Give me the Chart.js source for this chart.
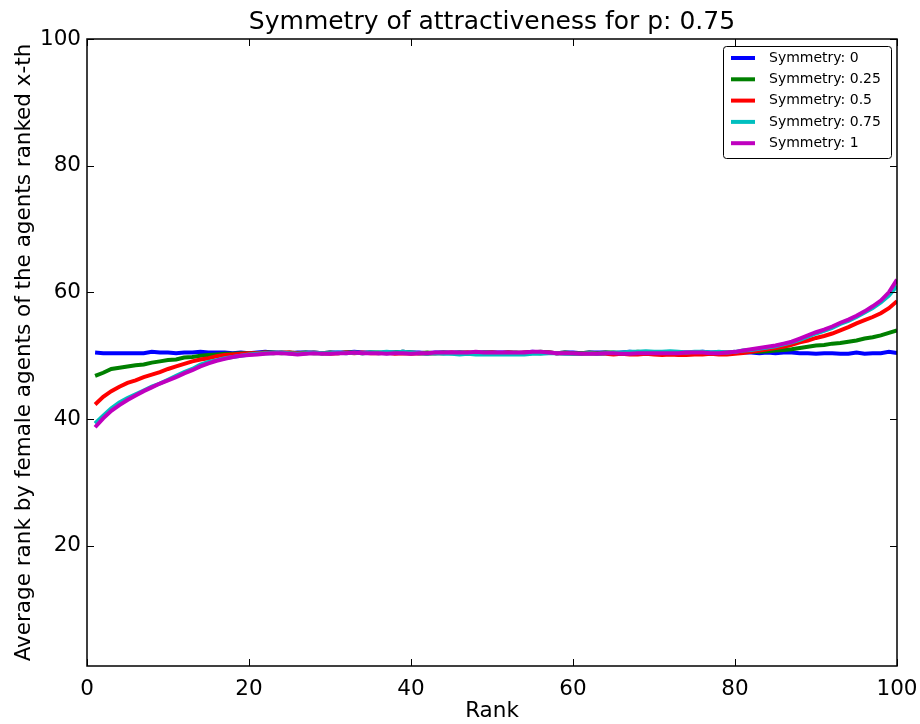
<!DOCTYPE html>
<html lang="en">
<head>
  <meta charset="UTF-8">
  <title>Symmetry of attractiveness for p: 0.75</title>
  <script src="https://cdn.jsdelivr.net/npm/chart.js"></script>
  <style>
    html, body {
      margin: 0;
      background: #ffffff;
    }
    #wrap {
      width: 920px;
      height: 724px;
    }
  </style>
</head>
<body>
  <div id="wrap">
    <canvas id="symChart"></canvas>
  </div>
  <script>
    const titleText = 'Symmetry of attractiveness for p: 0.75';
    const xTitle = 'Rank';
    const yTitle = 'Average rank by female agents of the agents ranked x-th';

    const ranks = Array.from({ length: 100 }, (_, i) => i + 1);
    const xTicks = [0, 20, 40, 60, 80, 100];
    const yTicks = [20, 40, 60, 80, 100];

    const sym0 = [
      50.5,50.4,50.4,50.4,50.4,50.4,50.4,50.6,50.5,50.5,
      50.4,50.5,50.5,50.6,50.5,50.5,50.5,50.4,50.5,50.4,
      50.5,50.6,50.5,50.5,50.4,50.5,50.5,50.5,50.4,50.5,
      50.5,50.5,50.6,50.5,50.5,50.4,50.5,50.5,50.6,50.5,
      50.5,50.4,50.5,50.5,50.5,50.5,50.4,50.5,50.5,50.5,
      50.5,50.5,50.4,50.5,50.6,50.5,50.5,50.4,50.5,50.5,
      50.4,50.5,50.5,50.5,50.4,50.5,50.6,50.5,50.5,50.5,
      50.5,50.4,50.5,50.5,50.5,50.6,50.5,50.5,50.4,50.5,
      50.5,50.5,50.4,50.5,50.4,50.5,50.5,50.4,50.4,50.3,
      50.4,50.4,50.3,50.3,50.5,50.3,50.4,50.4,50.6,50.4
    ];
    const sym025 = [
      46.8,47.3,47.9,48.1,48.3,48.5,48.6,48.9,49.1,49.3,
      49.4,49.7,49.8,50.0,50.1,50.2,50.3,50.3,50.4,50.4,
      50.4,50.5,50.5,50.4,50.5,50.4,50.5,50.4,50.4,50.5,
      50.4,50.5,50.5,50.4,50.5,50.5,50.4,50.5,50.6,50.5,
      50.4,50.5,50.4,50.5,50.4,50.5,50.5,50.4,50.5,50.5,
      50.4,50.5,50.5,50.4,50.5,50.6,50.5,50.4,50.5,50.4,
      50.4,50.5,50.4,50.5,50.5,50.4,50.5,50.6,50.5,50.5,
      50.4,50.5,50.5,50.4,50.5,50.5,50.4,50.5,50.5,50.5,
      50.6,50.6,50.6,50.7,50.8,50.9,51.0,51.2,51.4,51.6,
      51.7,51.9,52.0,52.2,52.4,52.7,52.9,53.2,53.6,54.0
    ];
    const sym05 = [
      42.3,43.5,44.4,45.1,45.7,46.1,46.6,47.0,47.4,47.9,
      48.3,48.7,49.1,49.4,49.6,49.9,50.1,50.2,50.3,50.4,
      50.4,50.5,50.4,50.5,50.5,50.4,50.4,50.5,50.4,50.3,
      50.4,50.5,50.4,50.5,50.4,50.4,50.5,50.3,50.4,50.3,
      50.4,50.3,50.4,50.4,50.5,50.4,50.5,50.4,50.4,50.5,
      50.4,50.5,50.4,50.5,50.5,50.4,50.5,50.4,50.4,50.3,
      50.3,50.4,50.3,50.3,50.2,50.3,50.2,50.2,50.3,50.2,
      50.1,50.2,50.1,50.1,50.2,50.2,50.3,50.2,50.2,50.3,
      50.4,50.6,50.8,51.0,51.2,51.4,51.7,52.1,52.4,52.8,
      53.1,53.5,54.0,54.5,55.1,55.6,56.1,56.7,57.5,58.6
    ];
    const sym075 = [
      39.3,40.5,41.7,42.6,43.3,43.9,44.5,45.1,45.6,46.2,
      46.8,47.4,47.9,48.6,49.0,49.3,49.6,49.8,50.0,50.2,
      50.3,50.4,50.4,50.5,50.4,50.3,50.4,50.5,50.4,50.4,
      50.5,50.4,50.5,50.4,50.5,50.5,50.6,50.5,50.6,50.5,
      50.4,50.3,50.4,50.3,50.3,50.2,50.3,50.2,50.2,50.2,
      50.2,50.2,50.2,50.2,50.3,50.3,50.4,50.4,50.3,50.3,
      50.3,50.4,50.3,50.4,50.5,50.5,50.6,50.6,50.7,50.6,
      50.6,50.7,50.6,50.5,50.6,50.6,50.5,50.6,50.5,50.6,
      50.8,50.9,51.1,51.3,51.5,51.8,52.1,52.5,53.0,53.5,
      53.9,54.4,55.0,55.5,56.1,56.8,57.5,58.4,59.5,61.0
    ];
    const sym1 = [
      38.7,40.1,41.3,42.2,43.0,43.7,44.4,45.0,45.6,46.1,
      46.6,47.2,47.7,48.3,48.8,49.2,49.5,49.8,50.0,50.1,
      50.2,50.3,50.4,50.4,50.3,50.2,50.3,50.4,50.3,50.3,
      50.4,50.4,50.5,50.4,50.4,50.4,50.3,50.4,50.4,50.3,
      50.4,50.4,50.5,50.5,50.5,50.5,50.5,50.6,50.5,50.5,
      50.5,50.5,50.5,50.5,50.6,50.6,50.5,50.4,50.4,50.4,
      50.3,50.3,50.3,50.4,50.4,50.3,50.3,50.4,50.4,50.4,
      50.4,50.4,50.4,50.5,50.5,50.5,50.4,50.4,50.5,50.6,
      50.8,51.0,51.2,51.4,51.6,51.9,52.2,52.7,53.2,53.7,
      54.1,54.6,55.2,55.7,56.3,57.0,57.8,58.7,60.0,62.0
    ];

    const seriesLabels = ['Symmetry: 0', 'Symmetry: 0.25', 'Symmetry: 0.5', 'Symmetry: 0.75', 'Symmetry: 1'];
    const seriesValues = [sym0, sym025, sym05, sym075, sym1];
    const colors = ['#0000ff', '#008000', '#ff0000', '#00bfbf', '#bf00bf'];

    const FONT = 'DejaVu Sans';

    // matplotlib-style frame, inward ticks on all four sides, title above the axes
    const frameTicks = {
      id: 'frameTicks',
      afterDatasetsDraw(chart) {
        const { ctx, chartArea: a, scales } = chart;
        const len = 7;
        ctx.save();
        ctx.strokeStyle = '#000';
        ctx.lineWidth = 1;
        xTicks.forEach(v => {
          const px = Math.round(scales.x.getPixelForValue(v)) + 0.5;
          ctx.beginPath();
          ctx.moveTo(px, a.bottom); ctx.lineTo(px, a.bottom - len);
          ctx.moveTo(px, a.top); ctx.lineTo(px, a.top + len);
          ctx.stroke();
        });
        yTicks.forEach(v => {
          const py = Math.round(scales.y.getPixelForValue(v)) + 0.5;
          ctx.beginPath();
          ctx.moveTo(a.left, py); ctx.lineTo(a.left + len, py);
          ctx.moveTo(a.right, py); ctx.lineTo(a.right - len, py);
          ctx.stroke();
        });
        ctx.lineWidth = 1.5;
        ctx.strokeRect(a.left, a.top, a.right - a.left, a.bottom - a.top);

        ctx.fillStyle = '#000';
        ctx.font = '25px "' + FONT + '"';
        ctx.textAlign = 'center';
        ctx.textBaseline = 'alphabetic';
        ctx.fillText(titleText, (a.left + a.right) / 2, 29);
        ctx.restore();
      }
    };

    // legend box in the upper right corner of the axes
    const innerLegend = {
      id: 'innerLegend',
      afterDraw(chart) {
        const { ctx } = chart;
        const x0 = 723, y0 = 46, w = 168, h = 112, r = 3;
        ctx.save();
        ctx.fillStyle = '#fff';
        ctx.strokeStyle = '#000';
        ctx.lineWidth = 1;
        ctx.beginPath();
        ctx.roundRect(x0 + 0.5, y0 + 0.5, w, h, r);
        ctx.fill();
        ctx.stroke();
        ctx.font = '14px "' + FONT + '"';
        ctx.textBaseline = 'middle';
        ctx.textAlign = 'left';
        chart.data.datasets.forEach((ds, i) => {
          const y = 58 + i * 21.3;
          ctx.strokeStyle = ds.borderColor;
          ctx.lineWidth = 4;
          ctx.beginPath();
          ctx.moveTo(731, y);
          ctx.lineTo(755, y);
          ctx.stroke();
          ctx.fillStyle = '#000';
          ctx.fillText(ds.label, 769, y);
        });
        ctx.restore();
      }
    };

    const datasets = seriesLabels.map((label, k) => ({
      label,
      data: ranks.map((r, i) => ({ x: r, y: seriesValues[k][i] })),
      borderColor: colors[k],
      backgroundColor: colors[k],
      borderWidth: 4,
      pointRadius: 0,
      tension: 0,
      fill: false,
      order: seriesLabels.length - k
    }));

    const ctx = document.getElementById('symChart').getContext('2d');
    const chart = new Chart(ctx, {
      type: 'line',
      data: { datasets },
      plugins: [frameTicks, innerLegend],
      options: {
        responsive: true,
        maintainAspectRatio: false,
        animation: false,
        layout: { padding: { top: 39, right: 23, left: 0, bottom: 0 } },
        plugins: {
          legend: { display: false },
          title: { display: false },
          tooltip: { enabled: false }
        },
        scales: {
          x: {
            type: 'linear',
            min: 0,
            max: 100,
            afterBuildTicks: s => { s.ticks = xTicks.map(v => ({ value: v })); },
            afterFit: s => { s.height = 58; s.paddingLeft = 0; s.paddingRight = 0; },
            grid: { display: false, drawTicks: false },
            border: { display: false },
            ticks: { color: '#000', padding: 11, font: { family: FONT, size: 21.5 } },
            title: {
              display: true, text: xTitle, color: '#000',
              padding: { top: 0, bottom: 0 },
              font: { family: FONT, size: 21.5 }
            }
          },
          y: {
            type: 'linear',
            min: 1,
            max: 100,
            afterBuildTicks: s => { s.ticks = yTicks.map(v => ({ value: v })); },
            afterFit: s => { s.width = 87; s.paddingTop = 0; s.paddingBottom = 0; },
            grid: { display: false, drawTicks: false },
            border: { display: false },
            ticks: { color: '#000', padding: 6, font: { family: FONT, size: 21.5 } },
            title: {
              display: true, text: yTitle, color: '#000',
              padding: { top: 12, bottom: 0 },
              font: { family: FONT, size: 21.5 }
            }
          }
        }
      }
    });
  </script>
</body>
</html>
